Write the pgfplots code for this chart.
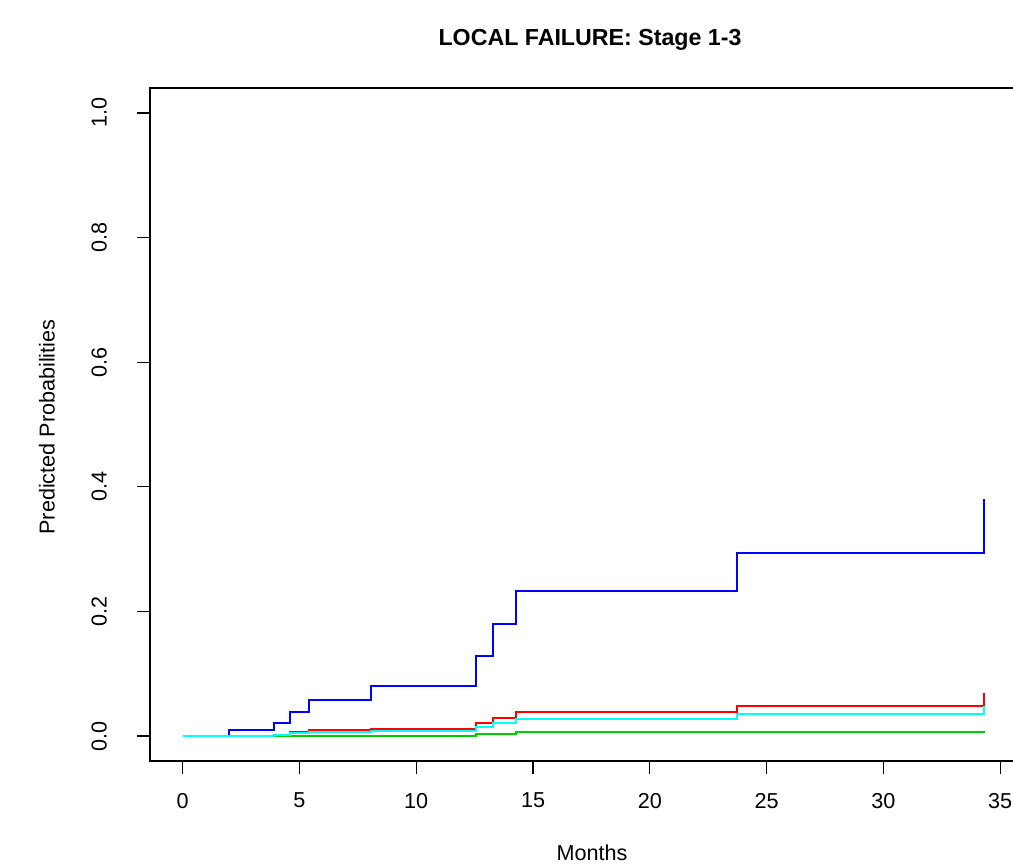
\documentclass[border=0pt]{standalone}
\usepackage{fontspec}
\setmainfont{Liberation Sans}
\usepackage{pgfplots}
\pgfplotsset{compat=1.18}
\definecolor{rgreen}{RGB}{0,205,0}
\definecolor{rcyan}{RGB}{0,255,255}
\definecolor{rred}{RGB}{255,0,0}
\definecolor{rblue}{RGB}{0,0,255}
\begin{document}
\begin{tikzpicture}
\begin{axis}[
  at={(75bp,52.5bp)}, anchor=south west,
  scale only axis,
  width=441.4bp, height=336.5bp,
  xmin=-1.4, xmax=36.4,
  ymin=-0.04, ymax=1.04,
  xtick={0,5,...,35},
  ytick={0,0.2,0.4,0.6,0.8,1.0},
  tick align=outside,
  major tick length=6.5bp,
  xtick pos=bottom, ytick pos=left,
  axis line style={line width=0.7bp},
  every tick/.style={black, line width=0.6bp},
  ticklabel style={font=\fontsize{10.8bp}{12bp}\selectfont},
  /pgf/number format/assume math mode=true,
  yticklabel style={rotate=90, anchor=south, /pgf/number format/.cd, fixed, fixed zerofill, precision=1},
  xticklabel shift=6bp,
  yticklabel shift=11.5bp,
  clip=false,
]
\addplot[const plot, color=rred, line width=1bp] coordinates {
(0,0) (3.9,0.002) (4.58,0.006) (5.41,0.0096) (8.08,0.0118) (12.54,0.0213) (13.27,0.029) (14.27,0.0385) (23.72,0.049) (34.33,0.0695)
};
\addplot[const plot, color=rgreen, line width=1bp] coordinates {
(0,0) (3.9,0.0005) (12.54,0.0027) (14.27,0.006) (34.33,0.008)
};
\addplot[const plot, color=rblue, line width=1bp] coordinates {
(0,0) (1.98,0.0096) (3.9,0.021) (4.58,0.0385) (5.41,0.058) (8.08,0.080) (12.54,0.129) (13.27,0.180) (14.27,0.233) (23.72,0.294) (34.33,0.381)
};
\addplot[const plot, color=rcyan, line width=1bp] coordinates {
(0,0) (3.9,0.0025) (4.58,0.005) (5.41,0.0065) (8.08,0.008) (12.54,0.014) (13.27,0.021) (14.27,0.027) (23.72,0.036) (34.33,0.048)
};
\end{axis}
\node[font=\bfseries\fontsize{11.6bp}{13bp}\selectfont] at (295bp,413bp) {LOCAL FAILURE: Stage 1-3};
\node[font=\fontsize{10.8bp}{12bp}\selectfont] at (296bp,6.5bp) {Months};
\node[font=\fontsize{10.8bp}{12bp}\selectfont, rotate=90] at (23.5bp,219.5bp) {Predicted Probabilities};
\pgfresetboundingbox
\path[use as bounding box] (0,0) rectangle (506.5bp,433bp);
\end{tikzpicture}
\end{document}
